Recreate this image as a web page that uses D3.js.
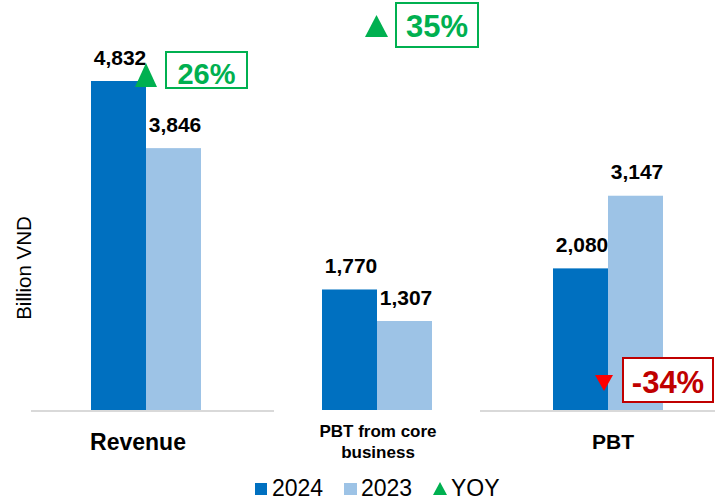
<!DOCTYPE html>
<html><head><meta charset="utf-8">
<script src="https://cdn.jsdelivr.net/npm/d3@7"></script>
<style>body{margin:0;background:#fff}svg{display:block;font-family:"Liberation Sans",Arial,sans-serif}</style>
</head><body><svg id="c" width="715" height="503"></svg>
<script>
const categories = ["Revenue", "PBT from core business", "PBT"];
const series = ["2024", "2023"];
const values2024 = [4832, 1770, 2080];
const values2023 = [3846, 1307, 3147];
const yoy = [26, 35, -34];
const colors = {"2024": "#0070c0", "2023": "#9dc3e6"};

const svg = d3.select("#c");
const x0 = d3.scaleBand().domain(categories).range([30.5, 723.5]).padding(0);
const x1 = d3.scaleBand().domain(series).range([-55, 55]);
const y = d3.scaleLinear().domain([0, 4832]).range([410, 81]);
const fmt = d3.format(",");

// axis line (with gap as in reference)
[[31, 274], [480, 715]].forEach(([a, b]) => {
  svg.append("line").attr("x1", a).attr("x2", b).attr("y1", 411).attr("y2", 411)
    .attr("stroke", "#d9d9d9").attr("stroke-width", 2);
});

const data = categories.map((c, i) => ({cat: c, vals: [{s: "2024", v: values2024[i]}, {s: "2023", v: values2023[i]}]}));

const g = svg.selectAll("g.cat").data(data).enter().append("g")
  .attr("transform", d => `translate(${x0(d.cat) + x0.bandwidth() / 2},0)`);
g.selectAll("rect").data(d => d.vals).enter().append("rect")
  .attr("x", d => x1(d.s)).attr("width", x1.bandwidth())
  .attr("y", d => y(d.v)).attr("height", d => y(0) - y(d.v))
  .attr("fill", d => colors[d.s]);
g.selectAll("text.val").data(d => d.vals).enter().append("text")
  .attr("x", d => x1(d.s) + x1.bandwidth() / 2 + 1.5)
  .attr("y", d => y(d.v) - 16.5)
  .attr("text-anchor", "middle").attr("font-weight", "bold").attr("font-size", 21)
  .attr("fill", "#000").text(d => fmt(d.v));

// category labels
const labelPos = [
  {x: 138, lines: ["Revenue"], y: [450], size: 23},
  {x: 378, lines: ["PBT from core", "business"], y: [437, 458], size: 17},
  {x: 613, lines: ["PBT"], y: [449], size: 21}
];
labelPos.forEach((p, i) => {
  p.lines.forEach((t, j) => {
    svg.append("text").attr("x", p.x).attr("y", p.y[j]).attr("text-anchor", "middle")
      .attr("font-weight", "bold").attr("font-size", p.size).attr("fill", "#000").text(t);
  });
});

// y axis title
svg.append("text").attr("transform", "translate(31,268) rotate(-90)")
  .attr("text-anchor", "middle").attr("font-size", 20.5).attr("fill", "#000").text("Billion VND");

// YOY annotations
const ann = [
  {tri: [135, 157, 63, 87], box: [166, 52, 81, 36], size: 29, dy: 14},
  {tri: [365, 388, 15, 37], box: [396, 3, 82, 44], size: 31, dy: 12},
  {tri: [595, 613, 375, 391], box: [623, 358, 90, 44], size: 31, dy: 13}
];
yoy.forEach((v, i) => {
  const a = ann[i];
  const up = v >= 0;
  const fillTri = up ? "#00b050" : "#ff0000";
  const col = up ? "#00b050" : "#c00000";
  const [xa, xb, ya, yb] = a.tri;
  const pts = up ? [[xa, yb], [xb, yb], [(xa + xb) / 2, ya]] : [[xa, ya], [xb, ya], [(xa + xb) / 2, yb]];
  svg.append("polygon").attr("points", pts.map(p => p.join(",")).join(" ")).attr("fill", fillTri);
  const [bx, by, bw, bh] = a.box;
  svg.append("rect").attr("x", bx).attr("y", by).attr("width", bw).attr("height", bh)
    .attr("fill", "#fff").attr("stroke", col).attr("stroke-width", 2);
  svg.append("text").attr("x", bx + bw / 2).attr("y", by + bh / 2 + a.dy).attr("text-anchor", "middle")
    .attr("font-weight", "bold").attr("font-size", a.size).attr("fill", col).text(v + "%");
});

// legend
const lg = svg.append("g");
lg.append("rect").attr("x", 255).attr("y", 483).attr("width", 12).attr("height", 12).attr("fill", colors["2024"]);
lg.append("text").attr("x", 272).attr("y", 496).attr("font-size", 23).attr("fill", "#000").text("2024");
lg.append("rect").attr("x", 344).attr("y", 483).attr("width", 13).attr("height", 12).attr("fill", colors["2023"]);
lg.append("text").attr("x", 361).attr("y", 496).attr("font-size", 23).attr("fill", "#000").text("2023");
lg.append("polygon").attr("points", "433,495 447,495 440,482").attr("fill", "#00b050");
lg.append("text").attr("x", 451).attr("y", 496).attr("font-size", 23).attr("fill", "#000").text("YOY");
</script></body></html>
